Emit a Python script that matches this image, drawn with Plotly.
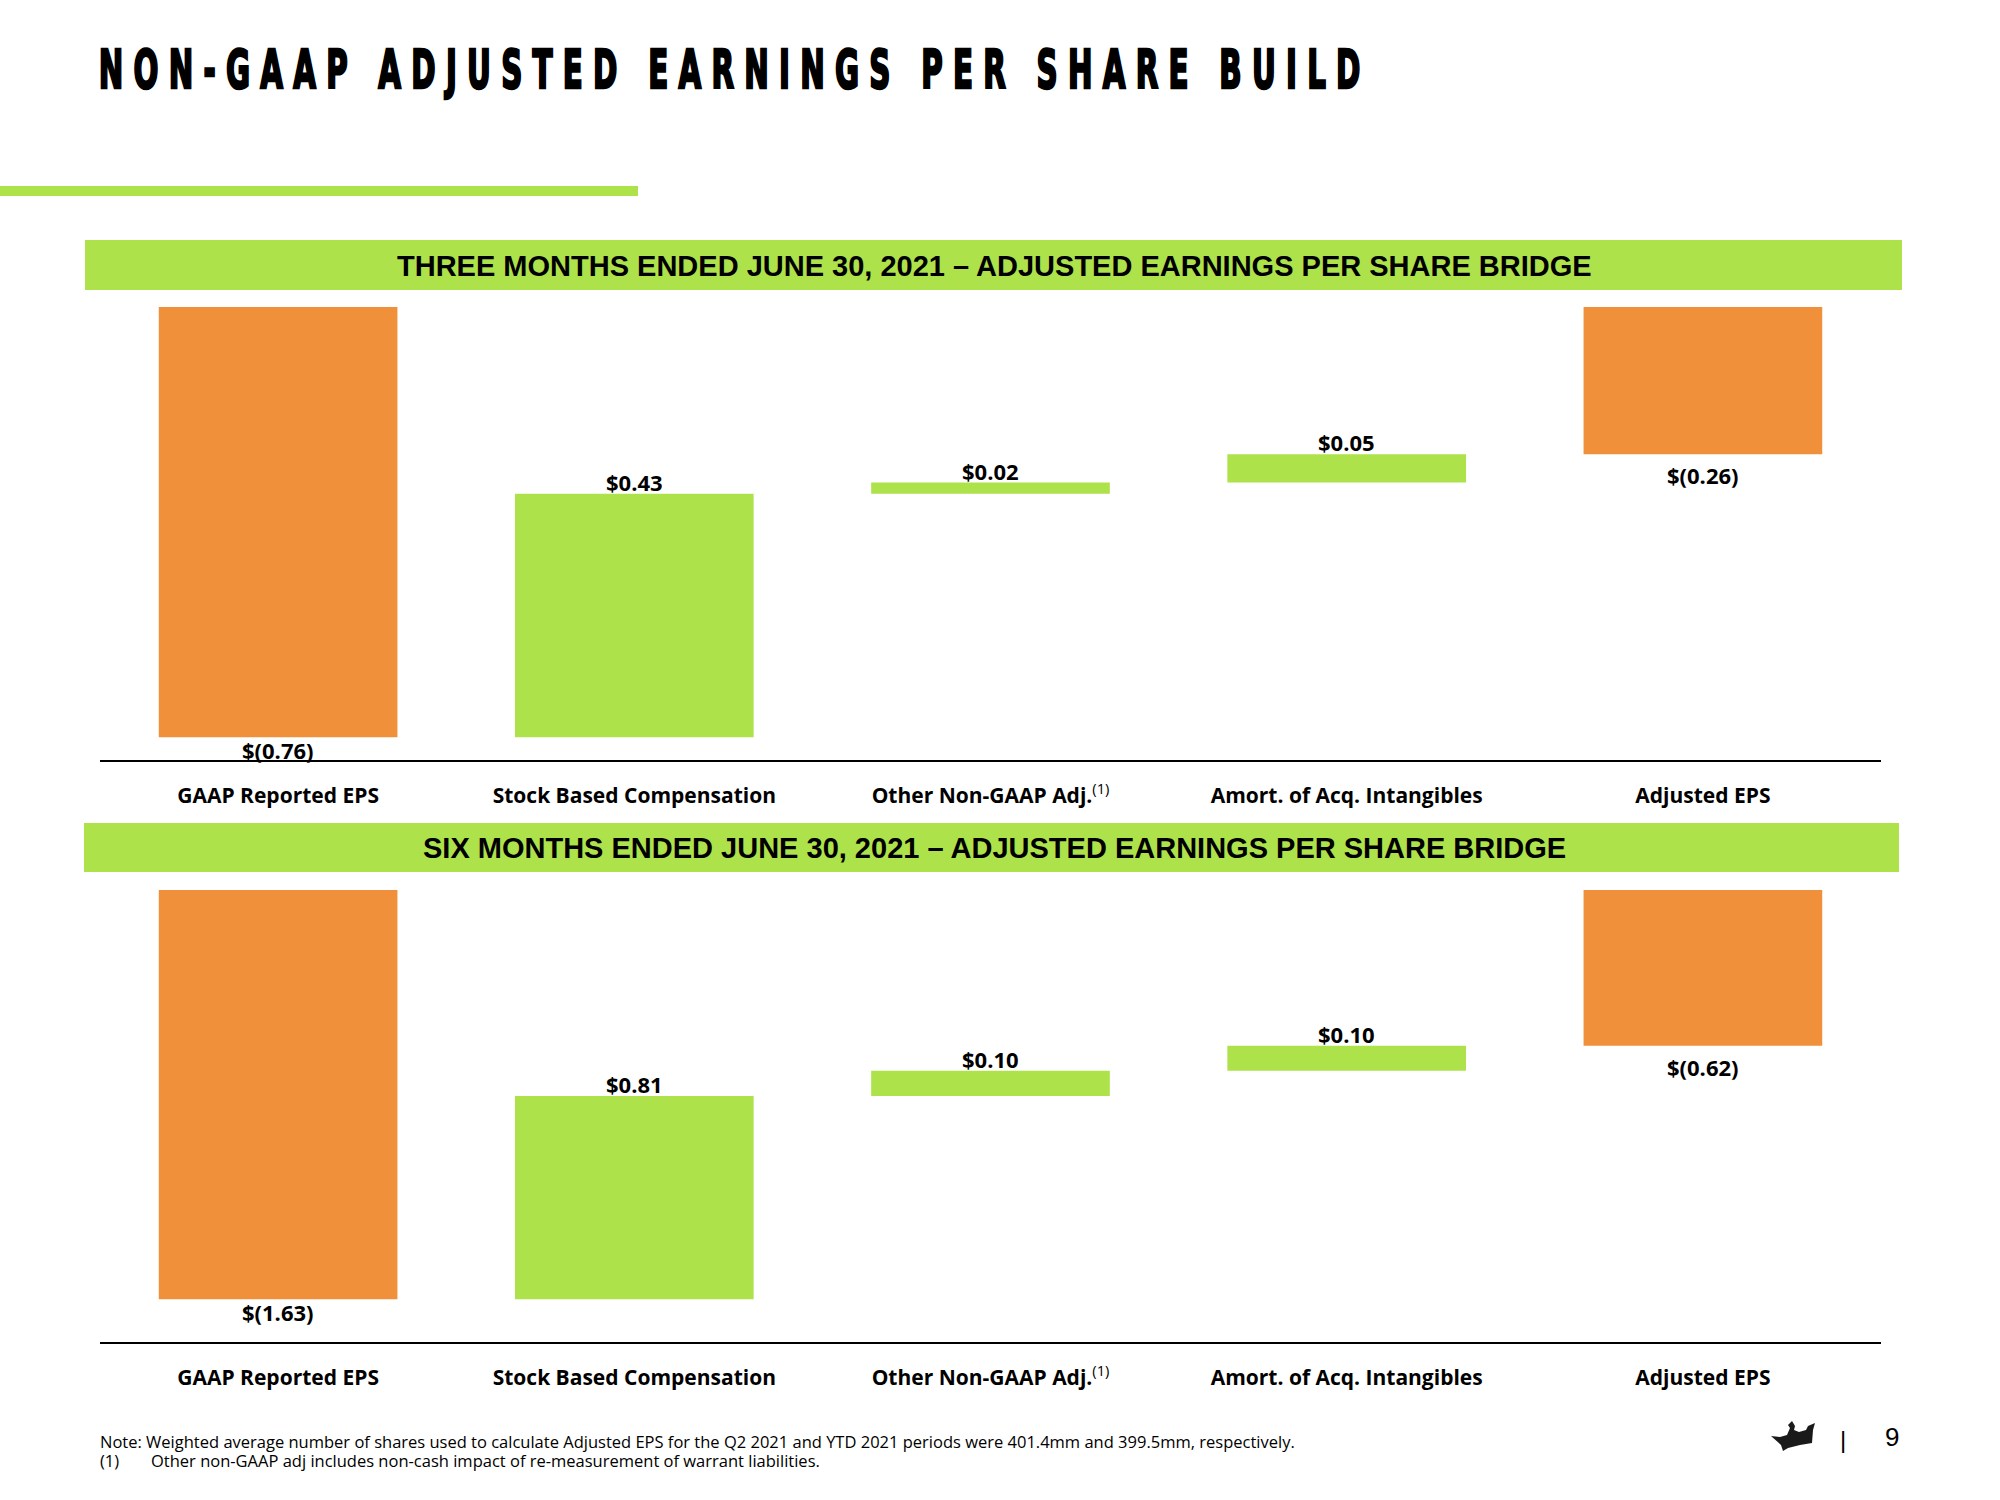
import plotly.graph_objects as go

categories = ["GAAP Reported EPS", "Stock Based Compensation",
              "Other Non-GAAP Adj.<sup><span style='font-weight:normal'>(1)</span></sup>",
              "Amort. of Acq. Intangibles", "Adjusted EPS"]
measures = ["absolute", "relative", "relative", "relative", "total"]
q2_values = [-0.76, 0.43, 0.02, 0.05, 0]
ytd_values = [-1.63, 0.81, 0.10, 0.10, 0]
q2_adjusted = -0.26
ytd_adjusted = -0.62

title_text = "NON-GAAP ADJUSTED EARNINGS PER SHARE BUILD"
header_top = "THREE MONTHS ENDED JUNE 30, 2021 \u2013 ADJUSTED EARNINGS PER SHARE BRIDGE"
header_bottom = "SIX MONTHS ENDED JUNE 30, 2021 \u2013 ADJUSTED EARNINGS PER SHARE BRIDGE"
note_line = "Note: Weighted average number of shares used to calculate Adjusted EPS for the Q2 2021 and YTD 2021 periods were 401.4mm and 399.5mm, respectively."
foot_line = "Other non-GAAP adj includes non-cash impact of re-measurement of warrant liabilities."

ORANGE = "#F0903A"
GREEN = "#AEE24A"
W, H = 2000, 1500


def fmt(v):
    return f"$({abs(v):.2f})" if v < 0 else f"${v:.2f}"


def px(x):
    return x / W


def py(y):
    return 1 - y / H


fig = go.Figure()
ann = []

label_font = dict(family="Open Sans", size=22, color="black", weight="bold")

for vals, total, xa, ya in [(q2_values, q2_adjusted, "x", "y"), (ytd_values, ytd_adjusted, "x2", "y2")]:
    fig.add_trace(go.Waterfall(
        x=categories, y=vals, measure=measures,
        increasing=dict(marker=dict(color=GREEN)),
        decreasing=dict(marker=dict(color=ORANGE)),
        totals=dict(marker=dict(color=ORANGE)),
        connector=dict(visible=False),
        width=0.67, cliponaxis=False, showlegend=False, textinfo="none",
        xaxis=xa, yaxis=ya,
    ))
    # value labels, placed at the bar ends on the data scale
    running = 0.0
    for cat, m, v in zip(categories, measures, vals):
        if m == "absolute":
            running = v
            ann.append(dict(text=fmt(v), x=cat, y=running, xref=xa, yref=ya,
                            yanchor="top", yshift=4, font=label_font))
        elif m == "relative":
            running += v
            ann.append(dict(text=fmt(v), x=cat, y=running, xref=xa, yref=ya,
                            yanchor="bottom", yshift=-5, font=label_font))
        else:
            ann.append(dict(text=fmt(total), x=cat, y=total, xref=xa, yref=ya,
                            yanchor="top", yshift=-4, font=label_font))

xdom = [px(100), px(1881)]
axis_common = dict(showgrid=False, zeroline=False, showline=True, linecolor="black", linewidth=2,
                   tickfont=dict(family="Open Sans", size=21, color="black", weight="bold"),
                   ticks="", ticklabelstandoff=16, fixedrange=True)

fig.update_layout(
    width=W, height=H, margin=dict(l=0, r=0, t=0, b=0),
    paper_bgcolor="white", plot_bgcolor="white",
    xaxis=dict(domain=xdom, anchor="y", **axis_common),
    yaxis=dict(domain=[py(760), py(307)], range=[-0.80, 0], visible=False, anchor="x"),
    xaxis2=dict(domain=xdom, anchor="y2", **axis_common),
    yaxis2=dict(domain=[py(1342), py(890)], range=[-1.80, 0], visible=False, anchor="x2"),
)


def path_from(points):
    parts = []
    for i, (x, y) in enumerate(points):
        parts.append(("M" if i == 0 else "L") + f"{px(x):.5f},{py(y):.5f}")
    return " ".join(parts) + " Z"


crown = [(1771, 1436), (1780, 1437), (1787, 1435), (1790, 1428), (1788, 1425), (1792, 1421),
         (1795, 1426), (1794, 1430), (1799, 1432), (1806, 1430), (1808, 1426), (1815, 1423),
         (1813, 1430), (1812, 1443), (1800, 1445), (1788, 1448), (1783, 1451), (1781, 1445)]

shapes = [
    dict(type="rect", xref="paper", yref="paper", x0=px(0), x1=px(638), y0=py(196), y1=py(186),
         fillcolor=GREEN, line=dict(width=0)),
    dict(type="rect", xref="paper", yref="paper", x0=px(85), x1=px(1902), y0=py(290), y1=py(240),
         fillcolor=GREEN, line=dict(width=0)),
    dict(type="rect", xref="paper", yref="paper", x0=px(84), x1=px(1899), y0=py(872), y1=py(823),
         fillcolor=GREEN, line=dict(width=0)),
    dict(type="path", xref="paper", yref="paper", path=path_from(crown),
         fillcolor="#1a1a1a", line=dict(width=0)),
]
fig.update_layout(shapes=shapes)

page_ann = [
    dict(text=title_text, x=px(734), y=py(69), xanchor="center", yanchor="middle",
         font=dict(family="DejaVu Sans Condensed", size=54, color="black", weight="bold")),
    dict(text=header_top, x=px(994), y=py(266), xanchor="center", yanchor="middle",
         font=dict(family="Liberation Sans, Arial", size=29, color="black", weight="bold")),
    dict(text=header_bottom, x=px(994), y=py(848), xanchor="center", yanchor="middle",
         font=dict(family="Liberation Sans, Arial", size=29, color="black", weight="bold")),
    dict(text=note_line, x=px(98), y=py(1441), xanchor="left", yanchor="middle",
         font=dict(family="Open Sans", size=16.5, color="black")),
    dict(text="(1)", x=px(98), y=py(1460), xanchor="left", yanchor="middle",
         font=dict(family="Open Sans", size=16.5, color="black")),
    dict(text=foot_line, x=px(149), y=py(1460), xanchor="left", yanchor="middle",
         font=dict(family="Open Sans", size=16.5, color="black")),
    dict(text="|", x=px(1843), y=py(1439), xanchor="center", yanchor="middle",
         font=dict(family="Liberation Sans", size=24, color="black")),
    dict(text="9", x=px(1892), y=py(1437), xanchor="center", yanchor="middle",
         font=dict(family="Liberation Sans", size=26, color="black")),
]
for a in page_ann:
    a.update(xref="paper", yref="paper")
all_ann = page_ann + ann
for a in all_ann:
    a.update(showarrow=False)
fig.update_layout(annotations=all_ann)

post = """
var t = document.querySelector('.annotation[data-index="0"] text.annotation-text');
if (t) {
  t.style.letterSpacing = '17px';
  t.style.stroke = 'black';
  t.style.strokeWidth = '2.5px';
  t.setAttribute('textLength', '1272');
  t.setAttribute('lengthAdjust', 'spacingAndGlyphs');
}
"""
fig.write_html("out.html", post_script=post)
